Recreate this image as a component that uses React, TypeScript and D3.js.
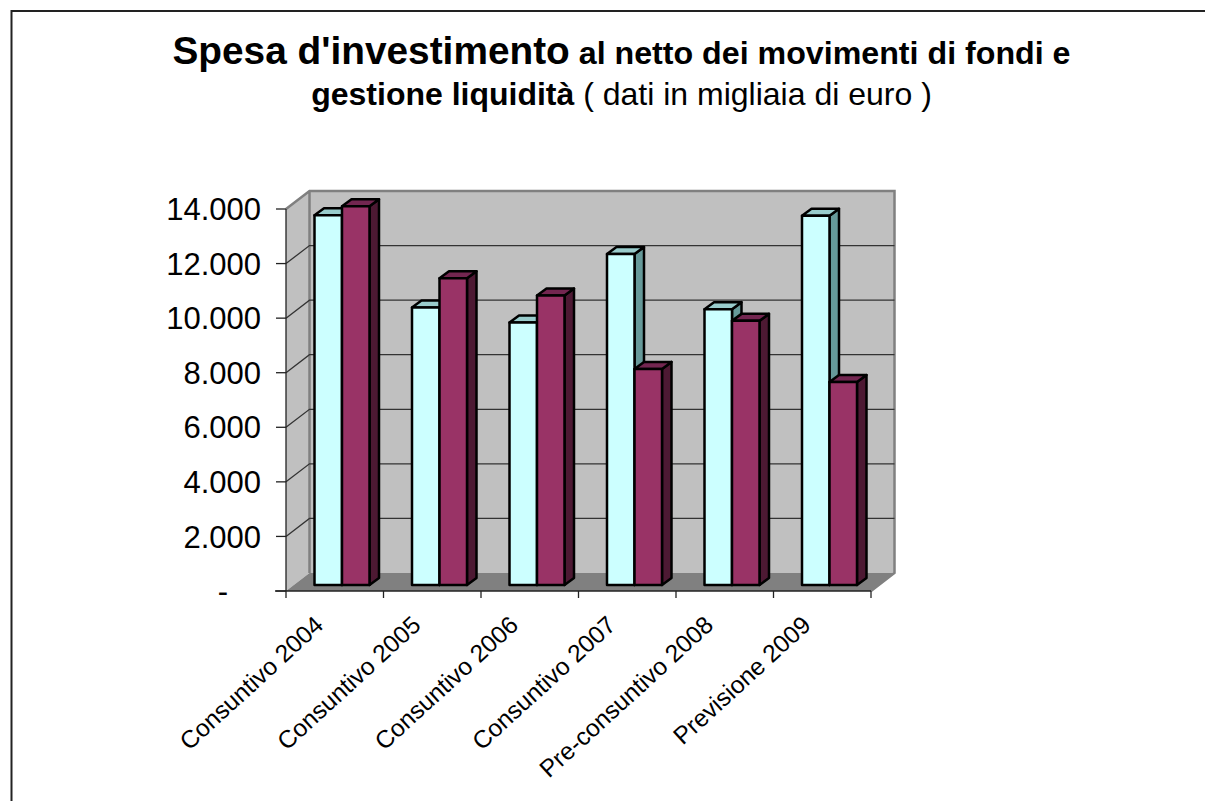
import React from "react";
import * as d3 from "d3";

const categories = ["Consuntivo 2004", "Consuntivo 2005", "Consuntivo 2006", "Consuntivo 2007", "Pre-consuntivo 2008", "Previsione 2009"];
const seriesA = [13550, 10170, 9620, 12130, 10110, 13530];
const seriesB = [13880, 11240, 10610, 7920, 9680, 7440];
const tickValues = [0, 2000, 4000, 6000, 8000, 10000, 12000, 14000];
const tickLabels = ["-", "2.000", "4.000", "6.000", "8.000", "10.000", "12.000", "14.000"];

const FONT = "'Liberation Sans', Arial, sans-serif";
const depth = { x: 23.5, y: -18 };
const barDepth = { x: 9.5, y: -7 };
const barLift = -6;

function Bar({ x, w, top, base, face, side, lid }: { x: number; w: number; top: number; base: number; face: string; side: string; lid: string }) {
  const dx = barDepth.x;
  const dy = barDepth.y;
  return (
    <g stroke="#000" strokeWidth={2.5} strokeLinejoin="round">
      <polygon points={`${x + w},${top} ${x + w + dx},${top + dy} ${x + w + dx},${base + dy} ${x + w},${base}`} fill={side} />
      <polygon points={`${x},${top} ${x + dx},${top + dy} ${x + w + dx},${top + dy} ${x + w},${top}`} fill={lid} />
      <rect x={x} y={top} width={w} height={base - top} fill={face} />
    </g>
  );
}

export default function App() {
  const y = d3.scaleLinear().domain([0, 14000]).range([591, 209]);
  const x = d3.scaleBand<string>().domain(categories).range([286, 871]);
  const edges = [...categories.map((c) => x(c) as number), 871];
  const floorY = y(0);
  const topY = y(14000);
  const barW = 27.5;
  const base = floorY + barLift;

  return (
    <svg width={1205} height={801} style={{ position: "absolute", left: 0, top: 0, background: "#fff" }} fontFamily={FONT}>
      <path d="M11.5,801 V11 H1205" fill="none" stroke="#222" strokeWidth={2} />

      <text textAnchor="middle" x={621.5} y={64} fontWeight="bold" fontSize={32.2} fill="#000">
        <tspan fontSize={38.8}>Spesa d'investimento</tspan> al netto dei movimenti di fondi e
      </text>
      <text textAnchor="middle" x={621.5} y={105} fontSize={32} fill="#000">
        <tspan fontWeight="bold">gestione liquidità</tspan> ( dati in migliaia di euro )
      </text>

      {/* back wall, side wall and floor */}
      <rect x={286 + depth.x} y={topY + depth.y} width={585} height={floorY - topY} fill="#c0c0c0" />
      <polygon points={`286,${topY} ${286 + depth.x},${topY + depth.y} ${286 + depth.x},${floorY + depth.y} 286,${floorY}`} fill="#c0c0c0" />
      <polygon points={`286,${floorY} ${286 + depth.x},${floorY + depth.y} ${871 + depth.x},${floorY + depth.y} 871,${floorY}`} fill="#808080" />
      <path
        d={`M286,${topY} L${286 + depth.x},${topY + depth.y} H${871 + depth.x} V${floorY + depth.y} L871,${floorY} M${286 + depth.x},${topY + depth.y} V${floorY + depth.y}`}
        fill="none"
        stroke="#808080"
        strokeWidth={2.5}
      />

      {/* gridlines over side and back walls */}
      {tickValues.slice(1, -1).map((t) => (
        <path
          key={t}
          d={`M286,${y(t)} L${286 + depth.x},${y(t) + depth.y} H${871 + depth.x}`}
          fill="none"
          stroke="#333"
          strokeWidth={1.3}
        />
      ))}

      {/* axes */}
      <path d={`M286,${topY} V${floorY}`} stroke="#222" strokeWidth={1.3} fill="none" />
      <path d={`M275,${floorY} H871`} stroke="#222" strokeWidth={1.3} fill="none" />
      {tickValues.map((t, i) => (
        <g key={t}>
          <line x1={276} x2={286} y1={y(t)} y2={y(t)} stroke="#222" strokeWidth={1.3} />
          <text x={t === 0 ? 228 : 261} y={y(t)} dy="0.36em" textAnchor="end" fontSize={31} fill="#000">
            {tickLabels[i]}
          </text>
        </g>
      ))}
      {edges.map((e) => (
        <line key={e} x1={e} x2={e} y1={floorY} y2={floorY + 7} stroke="#222" strokeWidth={1.3} />
      ))}

      {/* paired bars, drawn back to front */}
      {categories.map((c, i) => {
        const x0 = (x(c) as number) + 28.5;
        return (
          <g key={c}>
            <Bar x={x0} w={barW} top={y(seriesA[i]) + barLift} base={base} face="#ccffff" side="#669999" lid="#99cccc" />
            <Bar x={x0 + barW} w={barW} top={y(seriesB[i]) + barLift} base={base} face="#993366" side="#4d1933" lid="#732650" />
          </g>
        );
      })}

      {/* rotated category labels */}
      {categories.map((c) => {
        const lx = (x(c) as number) + x.bandwidth() / 2 - 10;
        return (
          <text key={c} transform={`translate(${lx},627) rotate(-42.5)`} textAnchor="end" fontSize={24.5} fill="#000">
            {c}
          </text>
        );
      })}
    </svg>
  );
}
